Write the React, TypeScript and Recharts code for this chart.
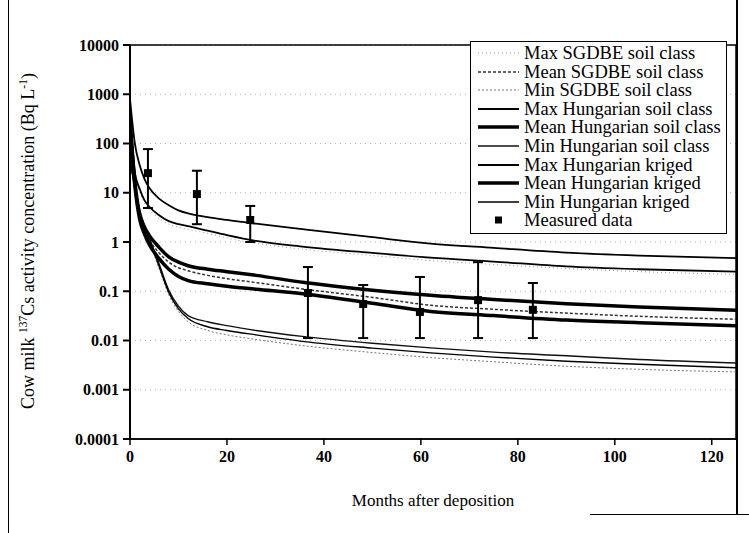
import React from "react";
import {
  CartesianGrid,
  ComposedChart,
  ErrorBar,
  Line,
  ReferenceArea,
  Scatter,
  XAxis,
  YAxis,
} from "recharts";

// Model curves (Bq/L against months).
const months = [0, 1, 2, 3, 4, 6, 8, 10, 12, 16, 20, 26, 36, 50, 62, 75, 90, 105, 125];

const maxSgdbe = [500, 23, 10.5, 6.2, 4.6, 3.0, 2.3, 2.0, 1.8, 1.5, 1.2, 0.94, 0.71, 0.53, 0.42, 0.35, 0.29, 0.25, 0.22];
const meanSgdbe = [260, 15, 3.2, 1.65, 1.1, 0.6, 0.39, 0.3, 0.26, 0.21, 0.18, 0.15, 0.11, 0.075, 0.052, 0.043, 0.036, 0.031, 0.027];
const minSgdbe = [38, 12, 3.7, 1.75, 0.98, 0.29, 0.085, 0.039, 0.024, 0.016, 0.013, 0.0105, 0.0078, 0.0057, 0.0045, 0.0037, 0.003, 0.0026, 0.0023];
const maxHuSoil = [800, 100, 36, 19, 12.5, 7.6, 5.6, 4.4, 3.8, 3.2, 2.8, 2.35, 1.8, 1.25, 0.93, 0.76, 0.61, 0.53, 0.47];
const meanHuSoil = [300, 17, 3.6, 2.0, 1.35, 0.78, 0.5, 0.39, 0.33, 0.28, 0.25, 0.21, 0.15, 0.105, 0.083, 0.068, 0.056, 0.048, 0.041];
const minHuSoil = [48, 14, 4.5, 2.2, 1.2, 0.36, 0.105, 0.05, 0.032, 0.024, 0.02, 0.016, 0.012, 0.0088, 0.0071, 0.0058, 0.0049, 0.0041, 0.0035];
const maxHuKrig = [550, 26, 12, 7, 5.2, 3.5, 2.65, 2.3, 2.1, 1.7, 1.38, 1.05, 0.8, 0.6, 0.48, 0.4, 0.32, 0.28, 0.25];
const meanHuKrig = [240, 14, 2.9, 1.45, 0.88, 0.46, 0.28, 0.2, 0.165, 0.142, 0.126, 0.11, 0.088, 0.057, 0.039, 0.032, 0.026, 0.023, 0.02];
const minHuKrig = [42, 13, 4.0, 2.0, 1.1, 0.32, 0.095, 0.044, 0.028, 0.019, 0.016, 0.013, 0.0095, 0.007, 0.0056, 0.0046, 0.0038, 0.0033, 0.0028];

// Measured data with min / max bars.
const measuredMonths = [3.7, 13.8, 24.8, 36.7, 48.1, 59.8, 71.8, 83.1];
const measuredValues = [25, 9.4, 2.8, 0.092, 0.055, 0.038, 0.066, 0.042];
const measuredLow = [4.9, 2.3, 1.0, 0.0112, 0.0112, 0.0112, 0.0112, 0.0112];
const measuredHigh = [77, 28, 5.4, 0.31, 0.134, 0.195, 0.39, 0.147];

const xTicks = [0, 20, 40, 60, 80, 100, 120];
const yTicks = [0.0001, 0.001, 0.01, 0.1, 1, 10, 100, 1000, 10000];

const FONT = "'Liberation Serif', 'Times New Roman', serif";

const curveData = months.map((m, i) => ({
  month: m,
  maxSgdbe: maxSgdbe[i],
  meanSgdbe: meanSgdbe[i],
  minSgdbe: minSgdbe[i],
  maxHuSoil: maxHuSoil[i],
  meanHuSoil: meanHuSoil[i],
  minHuSoil: minHuSoil[i],
  maxHuKrig: maxHuKrig[i],
  meanHuKrig: meanHuKrig[i],
  minHuKrig: minHuKrig[i],
}));

const measuredData = measuredMonths.map((m, i) => ({
  month: m,
  value: measuredValues[i],
  err: [measuredValues[i] - measuredLow[i], measuredHigh[i] - measuredValues[i]],
}));

interface SeriesStyle {
  key: string;
  name: string;
  stroke: string;
  width: number;
  dash?: string;
}

const SERIES: SeriesStyle[] = [
  { key: "maxSgdbe", name: "Max SGDBE soil class", stroke: "#9a9a9a", width: 1, dash: "1 3" },
  { key: "meanSgdbe", name: "Mean SGDBE soil class", stroke: "#333", width: 1.5, dash: "3 2" },
  { key: "minSgdbe", name: "Min SGDBE soil class", stroke: "#777", width: 1, dash: "2 2" },
  { key: "maxHuSoil", name: "Max Hungarian soil class", stroke: "#000", width: 1.8 },
  { key: "meanHuSoil", name: "Mean Hungarian soil class", stroke: "#000", width: 3.5 },
  { key: "minHuSoil", name: "Min Hungarian soil class", stroke: "#111", width: 1.4 },
  { key: "maxHuKrig", name: "Max Hungarian kriged", stroke: "#000", width: 1.8 },
  { key: "meanHuKrig", name: "Mean Hungarian kriged", stroke: "#000", width: 3.5 },
  { key: "minHuKrig", name: "Min Hungarian kriged", stroke: "#000", width: 1.4 },
];

function YTitle() {
  return (
    <text
      transform="translate(34, 241) rotate(-90)"
      textAnchor="middle"
      fontFamily={FONT}
      fontSize={18}
      fill="#000"
    >
      Cow milk <tspan dy={-7} fontSize={11.5}>137</tspan>
      <tspan dy={7}>Cs activity concentration (Bq L</tspan>
      <tspan dy={-7} fontSize={11.5}>-1</tspan>
      <tspan dy={7}>)</tspan>
    </text>
  );
}

const rowStyle: React.CSSProperties = {
  display: "flex",
  alignItems: "center",
  height: 18.55,
  whiteSpace: "nowrap",
};

function LegendBox() {
  return (
    <div
      style={{
        position: "absolute",
        left: 470,
        top: 41,
        width: 257,
        height: 193,
        border: "1.5px solid #000",
        background: "#fff",
        fontFamily: FONT,
        fontSize: 18.5,
        paddingTop: 2,
        boxSizing: "border-box",
      }}
    >
      {SERIES.map((s) => (
        <div key={s.key} style={rowStyle}>
          <svg width={53} height={18} style={{ flex: "none" }}>
            <line x1={7} x2={48} y1={9} y2={9} stroke={s.stroke} strokeWidth={s.width} strokeDasharray={s.dash} />
          </svg>
          <span style={{ lineHeight: "18px" }}>{s.name}</span>
        </div>
      ))}
      <div style={rowStyle}>
        <svg width={53} height={18} style={{ flex: "none" }}>
          <rect x={24} y={5.5} width={7} height={7} fill="#000" />
        </svg>
        <span style={{ lineHeight: "18px" }}>Measured data</span>
      </div>
    </div>
  );
}

export default function App() {
  return (
    <div
      style={{
        position: "absolute",
        left: 0,
        top: 0,
        width: 749,
        height: 533,
        background: "#fff",
        overflow: "hidden",
      }}
    >
      {/* scanned figure frame */}
      <div style={{ position: "absolute", left: 8, top: 0, width: 1, height: 533, background: "#000" }} />
      <div style={{ position: "absolute", left: 736, top: 0, width: 1.5, height: 514, background: "#000" }} />
      <div style={{ position: "absolute", left: 590, top: 514, width: 159, height: 1, background: "#000" }} />
      <ComposedChart
        width={749}
        height={533}
        data={curveData}
        margin={{ top: 45, right: 13, bottom: 64, left: 0 }}
      >
        <CartesianGrid vertical={false} stroke="#b5b5b5" strokeDasharray="1 4" />
        <XAxis
          type="number"
          dataKey="month"
          domain={[0, 125]}
          ticks={xTicks}
          allowDataOverflow
          height={30}
          tickSize={6}
          tickMargin={6}
          stroke="#000"
          strokeWidth={1.5}
          tick={{ fill: "#000", fontSize: 16, fontWeight: "bold", fontFamily: FONT }}
          label={{
            value: "Months after deposition",
            position: "bottom",
            offset: 25,
            fill: "#000",
            fontSize: 17,
            fontFamily: FONT,
          }}
        />
        <YAxis
          type="number"
          scale="log"
          domain={[0.0001, 10000]}
          ticks={yTicks}
          allowDataOverflow
          width={130}
          tickSize={7}
          tickMargin={4}
          stroke="#000"
          strokeWidth={2}
          tickFormatter={(v: number) => String(v)}
          tick={{ fill: "#000", fontSize: 16, fontWeight: "bold", fontFamily: FONT }}
          label={<YTitle />}
        />
        <ReferenceArea
          x1={0}
          x2={125}
          y1={0.0001}
          y2={10000}
          fill="none"
          fillOpacity={0}
          stroke="#000"
          strokeWidth={1.5}
          ifOverflow="visible"
        />
        {SERIES.map((s) => (
          <Line
            key={s.key}
            type="monotone"
            dataKey={s.key}
            name={s.name}
            stroke={s.stroke}
            strokeWidth={s.width}
            strokeDasharray={s.dash}
            dot={false}
            activeDot={false}
            isAnimationActive={false}
          />
        ))}
        <Scatter
          data={measuredData}
          dataKey="value"
          name="Measured data"
          fill="#000"
          shape="square"
          isAnimationActive={false}
        >
          <ErrorBar dataKey="err" direction="y" width={5} stroke="#000" strokeWidth={2} isAnimationActive={false} />
        </Scatter>
      </ComposedChart>
      <LegendBox />
    </div>
  );
}
